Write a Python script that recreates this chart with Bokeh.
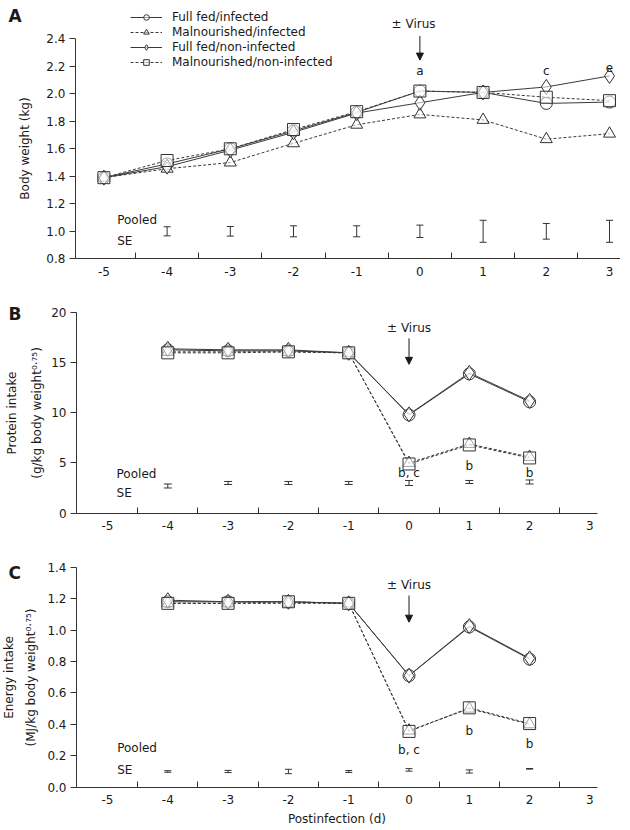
from bokeh.plotting import figure
from bokeh.layouts import column
from bokeh.models import (FixedTicker, PrintfTickFormatter, Legend, LegendItem, Whisker,
                          TeeHead, Arrow, NormalHead, Label, ColumnDataSource, Range1d)
from bokeh.embed import file_html
from bokeh.resources import INLINE

# ---------------- data ----------------
DAYS_A = [-5, -4, -3, -2, -1, 0, 1, 2, 3]
DAYS_BC = [-4, -3, -2, -1, 0, 1, 2]
TICK_DAYS = [-5, -4, -3, -2, -1, 0, 1, 2, 3]
TICK_LABELS = ["-5", "-4", "-3", "-2", "-1", "0", "1", "2", "3"]
SEPARATORS = [-4.5, -3.5, -2.5, -1.5, -0.5, 0.5, 1.5, 2.5]

SERIES = ["Full fed/infected", "Malnourished/infected", "Full fed/non-infected", "Malnourished/non-infected"]

# Panel A: body weight (kg)
BW_FF_INF = [1.39, 1.49, 1.60, 1.73, 1.865, 2.02, 2.01, 1.93, 1.94]
BW_MN_INF = [1.39, 1.455, 1.50, 1.64, 1.775, 1.85, 1.81, 1.67, 1.71]
BW_FF_NON = [1.39, 1.47, 1.59, 1.72, 1.86, 1.935, 2.01, 2.05, 2.13]
BW_MN_NON = [1.39, 1.515, 1.60, 1.74, 1.87, 2.02, 2.01, 1.975, 1.95]
BW_SE_DAYS = [-4, -3, -2, -1, 0, 1, 2, 3]
BW_SE_MID = [1.0, 1.0, 1.0, 1.0, 1.0, 1.0, 1.0, 1.0]
BW_SE_HALF = [0.033, 0.035, 0.04, 0.04, 0.045, 0.08, 0.057, 0.08]
BW_TICKS = [0.8, 1.0, 1.2, 1.4, 1.6, 1.8, 2.0, 2.2, 2.4]

# Panel B: protein intake
PR_FF_INF = [16.3, 16.2, 16.2, 16.0, 9.8, 13.9, 11.1]
PR_MN_INF = [16.1, 16.1, 16.1, 16.0, 5.0, 6.9, 5.6]
PR_FF_NON = [16.4, 16.3, 16.3, 16.0, 9.85, 14.0, 11.2]
PR_MN_NON = [16.0, 16.0, 16.1, 16.0, 4.9, 6.8, 5.5]
PR_SE_MID = [2.7, 3.0, 3.0, 3.0, 3.0, 3.1, 3.1]
PR_SE_HALF = [0.2, 0.15, 0.15, 0.15, 0.25, 0.15, 0.2]
PR_TICKS = [0, 5, 10, 15, 20]

# Panel C: energy intake
EN_FF_INF = [1.18, 1.18, 1.18, 1.17, 0.71, 1.02, 0.815]
EN_MN_INF = [1.17, 1.17, 1.17, 1.17, 0.36, 0.50, 0.40]
EN_FF_NON = [1.19, 1.18, 1.18, 1.17, 0.71, 1.025, 0.82]
EN_MN_NON = [1.17, 1.17, 1.18, 1.17, 0.355, 0.505, 0.405]
EN_SE_MID = [0.10, 0.10, 0.10, 0.10, 0.11, 0.10, 0.117]
EN_SE_HALF = [0.005, 0.007, 0.014, 0.006, 0.008, 0.01, 0.002]
EN_TICKS = [0.0, 0.2, 0.4, 0.6, 0.8, 1.0, 1.2, 1.4]

FONT = "DejaVu Sans"
INK = "#1a1a1a"
LINE = "#3a3a3a"
MARKERS = ["circle", "triangle", "diamond", "square"]
SIZES = [12, 12, 15, 12]
DASHES = ["solid", "3 2", "solid", "3 2"]
W = 620


def make_fig(h, xr, yr, xb, yb, yticks, yfmt, ylabel, lh, standoff):
    p = figure(width=W, height=h, x_range=Range1d(*xr), y_range=Range1d(*yr),
               output_backend="svg", toolbar_location=None,
               min_border_left=0, min_border_right=0, min_border_top=0, min_border_bottom=0)
    p.xgrid.visible = False
    p.ygrid.visible = False
    p.outline_line_color = None
    xa = p.xaxis[0]
    xa.fixed_location = yb[0]
    xa.bounds = xb
    xa.ticker = FixedTicker(ticks=TICK_DAYS, minor_ticks=SEPARATORS)
    xa.major_label_overrides = {d: s for d, s in zip(TICK_DAYS, TICK_LABELS)}
    xa.major_tick_in = 0
    xa.major_tick_out = 0
    xa.minor_tick_in = 6
    xa.minor_tick_out = 0
    xa.major_label_standoff = 8
    ya = p.yaxis[0]
    ya.fixed_location = xb[0]
    ya.bounds = yb
    ya.ticker = FixedTicker(ticks=yticks)
    ya.formatter = PrintfTickFormatter(format=yfmt)
    ya.major_tick_in = 0
    ya.major_tick_out = 6
    ya.minor_tick_out = 0
    ya.major_label_standoff = 4
    ya.axis_label = ylabel
    ya.axis_label_standoff = standoff
    for ax in (xa, ya):
        ax.axis_line_color = "#333333"
        ax.major_tick_line_color = "#333333"
        ax.minor_tick_line_color = "#333333"
        ax.major_label_text_font = FONT
        ax.major_label_text_font_size = "12px"
        ax.major_label_text_color = INK
        ax.axis_label_text_font = FONT
        ax.axis_label_text_font_size = "12px"
        ax.axis_label_text_font_style = "normal"
        ax.axis_label_text_color = INK
        ax.axis_label_text_line_height = lh
    return p


def draw_series(p, days, ys_list):
    rends = []
    for ys, dash in zip(ys_list, DASHES):
        src = ColumnDataSource(dict(x=days, y=ys))
        lr = p.line("x", "y", source=src, line_color=LINE, line_width=1, line_dash=dash)
        rends.append([lr])
    for i, ys in enumerate(ys_list):
        src = ColumnDataSource(dict(x=days, y=ys))
        sr = p.scatter("x", "y", source=src, marker=MARKERS[i], size=SIZES[i],
                       line_color="#333333", line_width=1, fill_color="white", fill_alpha=0.55)
        rends[i].append(sr)
    return rends


def draw_se(p, days, mid, half, cap):
    up = [m + h for m, h in zip(mid, half)]
    lo = [m - h for m, h in zip(mid, half)]
    src = ColumnDataSource(dict(x=days, up=up, lo=lo))
    w = Whisker(source=src, base="x", upper="up", lower="lo", dimension="height",
                line_color="#333333", line_width=1,
                upper_head=TeeHead(size=cap, line_color="#333333", line_width=1),
                lower_head=TeeHead(size=cap, line_color="#333333", line_width=1))
    p.add_layout(w)


def txt(p, x, y, s, align="center", size="12px", bold=False, baseline="middle"):
    p.add_layout(Label(x=x, y=y, text=s, text_align=align, text_baseline=baseline,
                       text_font=FONT, text_font_size=size, text_color=INK,
                       text_font_style="bold" if bold else "normal"))


def virus(p, y_text, y0, y1, xt=0.0, xa=0.0):
    txt(p, xt, y_text, "± Virus")
    p.add_layout(Arrow(x_start=xa, y_start=y0, x_end=xa, y_end=y1, line_color=INK, line_width=1,
                       end=NormalHead(size=7, fill_color=INK, line_color=INK)))


# ---------------- Panel A ----------------
HA = 290
pA = make_fig(HA, (-6.636, 3.174), (0.5695, 2.6785), (-5.45, 3.17), (0.8, 2.4),
              BW_TICKS, "%.1f", "Body weight (kg)", 1.2, 11)
rA = draw_series(pA, DAYS_A, [BW_FF_INF, BW_MN_INF, BW_FF_NON, BW_MN_NON])
draw_se(pA, BW_SE_DAYS, BW_SE_MID, BW_SE_HALF, 7)
legend = Legend(items=[LegendItem(label=s, renderers=r) for s, r in zip(SERIES, rA)],
                location=(130, HA - 68.5), glyph_width=32, glyph_height=14, label_height=14,
                spacing=1, padding=0, margin=0, border_line_color=None,
                background_fill_alpha=0, label_text_font=FONT, label_text_font_size="12px",
                label_text_color=INK, label_standoff=10)
pA.add_layout(legend)
virus(pA, 2.51, 2.42, 2.245, xt=-0.1)
txt(pA, 0, 2.165, "a")
txt(pA, 2, 2.165, "c")
txt(pA, 3, 2.19, "e")
txt(pA, -4.79, 1.08, "Pooled", align="left")
txt(pA, -4.79, 0.927, "SE", align="left")
txt(pA, -6.51, 2.569, "A", align="left", size="17px", bold=True)

# ---------------- Panel B ----------------
XR_BC = (-6.7745, 3.507)
XB_BC = (-5.514, 3.124)
HB = 258
pB = make_fig(HB, XR_BC, (-3.546, 22.228), XB_BC, (0, 20), PR_TICKS, "%d",
              "Protein intake\n(g/kg body weight⁰·⁷⁵)", 1.8, 4)
draw_series(pB, DAYS_BC, [PR_FF_INF, PR_MN_INF, PR_FF_NON, PR_MN_NON])
draw_se(pB, DAYS_BC, PR_SE_MID, PR_SE_HALF, 8)
virus(pB, 18.45, 17.45, 14.85)
txt(pB, 0, 3.95, "b, c")
txt(pB, 1, 4.7, "b")
txt(pB, 2, 4.0, "b")
txt(pB, -4.85, 3.9, "Pooled", align="left")
txt(pB, -4.85, 2.0, "SE", align="left")
txt(pB, -6.64, 19.93, "B", align="left", size="17px", bold=True)

# ---------------- Panel C ----------------
HC = 278
pC = make_fig(HC, XR_BC, (-0.2501, 1.519), XB_BC, (0.0, 1.4), EN_TICKS, "%.1f",
              "Energy intake\n(MJ/kg body weight⁰·⁷⁵)", 1.6, 6)
pC.xaxis[0].axis_label = "Postinfection (d)"
pC.xaxis[0].axis_label_standoff = 4
pC.xaxis[0].axis_label_text_line_height = 1.2
draw_series(pC, DAYS_BC, [EN_FF_INF, EN_MN_INF, EN_FF_NON, EN_MN_NON])
draw_se(pC, DAYS_BC, EN_SE_MID, EN_SE_HALF, 7)
virus(pC, 1.284, 1.22, 1.05)
txt(pC, 0, 0.234, "b, c")
txt(pC, 1, 0.356, "b")
txt(pC, 2, 0.276, "b")
txt(pC, -4.84, 0.251, "Pooled", align="left")
txt(pC, -4.84, 0.111, "SE", align="left")
txt(pC, -6.64, 1.36, "C", align="left", size="17px", bold=True)

layout = column(pA, pB, pC)
open("out.html", "w").write(file_html(layout, INLINE))
